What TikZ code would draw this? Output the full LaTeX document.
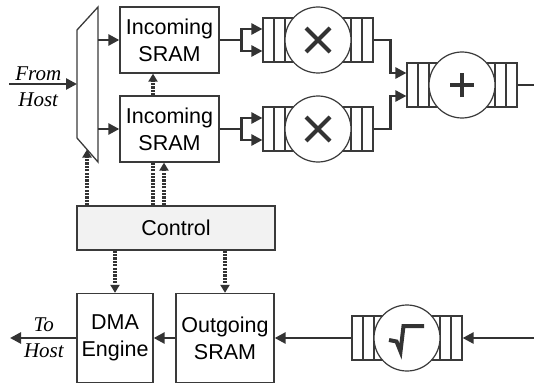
\documentclass[tikz,border=0pt]{standalone}
\usepackage{fontspec}
\setmainfont{Liberation Serif}
\setsansfont{Liberation Sans}
\usetikzlibrary{arrows.meta}
\definecolor{wire}{HTML}{333333}
\definecolor{edgegray}{HTML}{3A3A3A}
\definecolor{ctrlfill}{HTML}{F2F2F2}

\newcommand{\funit}[3]{%
  \node[queue] (#1q) at (#2,#3) {};
  \foreach \dx in {-44,-33,33,44}
    \draw[cell] ([xshift=\dx pt]#1q.north) -- ([xshift=\dx pt]#1q.south);
  \node[op] (#1) at (#2,#3) {};
}

\begin{document}
\begin{tikzpicture}[x=1pt,y=-1pt,>={Triangle[length=11pt,width=11pt]},
  flow/.style={->,draw=wire,line width=2.6pt},
  ctl/.style={draw=wire,line width=3.2pt,dash pattern=on 2.2pt off 1.2pt,-{Triangle[length=8pt,width=9pt]}},
  block/.style={draw=edgegray,line width=1.3pt,fill=white,align=center,inner sep=0pt,font=\sffamily\fontsize{21.5}{27}\selectfont},
  queue/.style={draw=edgegray,line width=1.2pt,minimum width=110pt,minimum height=44pt,inner sep=0pt},
  cell/.style={draw=edgegray,line width=1.2pt},
  op/.style={circle,draw=edgegray,line width=1.2pt,fill=white,minimum size=66pt,inner sep=0pt},
  sym/.style={draw=wire,line width=4pt},
  host/.style={font=\itshape\fontsize{21}{26}\selectfont,align=center}]

  \useasboundingbox (0,0) rectangle (534,385);

  \node[block,minimum width=99pt,minimum height=66pt] (in1) at (169.5,40) {Incoming\\SRAM};
  \node[block,minimum width=99pt,minimum height=66pt] (in2) at (169.5,129) {Incoming\\SRAM};
  \node[block,fill=ctrlfill,minimum width=198pt,minimum height=44pt] (ctrl) at (176,228) {Control};
  \node[block,minimum width=76pt,minimum height=89pt] (dma) at (115,338) {DMA\\Engine};
  \node[block,minimum width=98pt,minimum height=89pt] (out) at (225,338) {Outgoing\\SRAM};

  \draw[draw=edgegray,line width=1.3pt] (77,30) -- (98,7) -- (98,162) -- (77,138) -- cycle;
  \coordinate (muxin) at (77,84);
  \coordinate (muxo1) at (98,40);
  \coordinate (muxo2) at (98,129);
  \coordinate (muxb) at (87,149.5);

  \funit{m1}{318}{40}
  \funit{m2}{318}{129}
  \funit{add}{462}{85}
  \funit{sq}{407}{338}

  \draw[sym] ([shift={(-12,-12)}]m1.center) -- ([shift={(12,12)}]m1.center)
    ([shift={(-12,12)}]m1.center) -- ([shift={(12,-12)}]m1.center);
  \draw[sym] ([shift={(-12,-12)}]m2.center) -- ([shift={(12,12)}]m2.center)
    ([shift={(-12,12)}]m2.center) -- ([shift={(12,-12)}]m2.center);
  \draw[sym] ([xshift=-12pt]add.center) -- ([xshift=12pt]add.center)
    ([yshift=-12pt]add.center) -- ([yshift=12pt]add.center);
  \draw[sym] ([shift={(-18,2)}]sq.center) -- ++(7.5,1.5) -- ++(4,10) -- ++(3,-25.5) -- ++(20.5,0);

  \coordinate (fromhost) at (9,84);
  \coordinate (tohost) at (10,338);
  \coordinate (addout) at (534,85);
  \coordinate (sqin) at (534,338);

  \draw[flow] (fromhost) -- node[host,pos=0.43,yshift=-3pt] {From\\Host} (muxin);
  \draw[flow] (muxo1) -- (in1);
  \draw[flow] (muxo2) -- (in2);
  \draw[flow,-] (in1.east) -- ++(22,0) coordinate (f1);
  \draw[flow] (f1) |- ([yshift=11pt]m1q.west);
  \draw[flow] (f1) |- ([yshift=-11pt]m1q.west);
  \draw[flow,-] (in2.east) -- ++(22,0) coordinate (f2);
  \draw[flow] (f2) |- ([yshift=11pt]m2q.west);
  \draw[flow] (f2) |- ([yshift=-11pt]m2q.west);
  \draw[flow] (m1q.east) -- ++(17,0) |- ([yshift=12pt]addq.west);
  \draw[flow] (m2q.east) -- ++(17,0) |- ([yshift=-11pt]addq.west);
  \draw[flow,-] (addq.east) -- (addout);
  \draw[flow] (sqin) -- (sqq.east);
  \draw[flow] (sqq.west) -- (out);
  \draw[flow] (out) -- (dma);
  \draw[flow] (dma) -- node[host,pos=0.49] {To\\Host} (tohost);

  \draw[ctl] ([xshift=-89pt]ctrl.north) -- (muxb);
  \draw[ctl,-] ([xshift=-23pt]ctrl.north) -- ([xshift=-16.5pt]in2.south);
  \draw[ctl] ([xshift=-12pt]ctrl.north) -- ([xshift=-5.5pt]in2.south);
  \draw[ctl] ([xshift=-16.5pt]in2.north) -- ([xshift=-16.5pt]in1.south);
  \draw[ctl] (ctrl.south -| dma.north) -- (dma.north);
  \draw[ctl] (ctrl.south -| out.north) -- (out.north);

\end{tikzpicture}
\end{document}
